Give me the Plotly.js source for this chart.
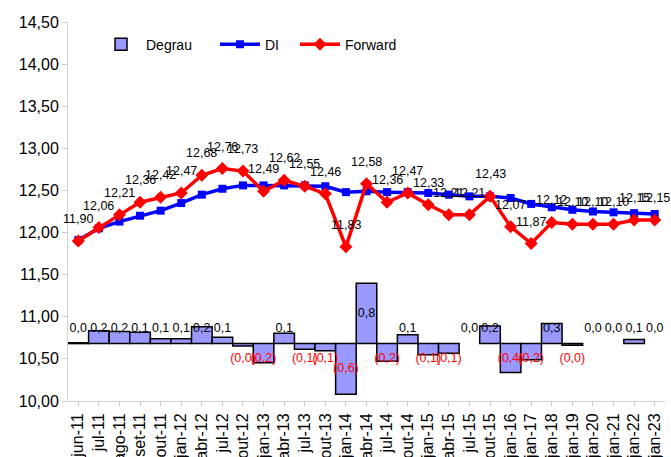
<!DOCTYPE html>
<html>
<head>
<meta charset="utf-8">
<script src="https://cdn.plot.ly/plotly-3.0.1.min.js"></script>
<style>html,body{margin:0;padding:0;background:#fff;}#chart{width:671px;height:457px;}</style>
</head>
<body>
<div id="chart"></div>
<script>
var categories = ["jun-11","jul-11","ago-11","set-11","out-11","jan-12","abr-12","jul-12","out-12","jan-13","abr-13","jul-13","out-13","jan-14","abr-14","jul-14","out-14","jan-15","abr-15","jul-15","out-15","jan-16","jan-17","jan-18","jan-19","jan-20","jan-21","jan-22","jan-23"];
var forward = [11.90,12.06,12.21,12.36,12.42,12.47,12.68,12.76,12.73,12.49,12.62,12.55,12.46,11.83,12.58,12.36,12.47,12.33,12.21,12.21,12.43,12.07,11.87,12.12,12.10,12.10,12.10,12.15,12.15];
var di = [11.91,12.05,12.13,12.20,12.26,12.35,12.45,12.52,12.56,12.56,12.56,12.56,12.55,12.48,12.49,12.48,12.48,12.47,12.45,12.43,12.43,12.41,12.34,12.30,12.27,12.25,12.24,12.23,12.22];
var degrau = [0.01,0.16,0.15,0.14,0.06,0.06,0.21,0.08,-0.03,-0.24,0.13,-0.07,-0.09,-0.63,0.75,-0.22,0.11,-0.14,-0.12,0.0,0.22,-0.36,-0.20,0.25,-0.02,0.0,0.0,0.05,0.0];
var degrauLabels = ["0,0","0,2","0,2","0,1","0,1","0,1","0,2","0,1","(0,0)","(0,2)","0,1","(0,1)","(0,1)","(0,6)","0,8","(0,2)","0,1","(0,1)","(0,1)","0,0","0,2","(0,4)","(0,2)","0,3","(0,0)","0,0","0,0","0,1","0,0"];
var forwardLabels = forward.map(function(v){ return v.toFixed(2).replace('.', ','); });

var FONT = "Liberation Sans, Arial, sans-serif";

var labelPos = degrau.map(function(v){
  var s = (v < 0) ? -1 : 1;
  return s * Math.max(Math.abs(v) / 2, 0.185);
});
var labelColors = degrau.map(function(v){ return v < 0 ? "#ff0000" : "#000000"; });
var barLineWidths = degrau.map(function(v){ return v === 0 ? 0 : 1.5; });

var traces = [
  {
    type: "bar", name: "Degrau", x: categories, y: degrau, yaxis: "y2",
    marker: {color: "#9999ff", line: {color: "#000000", width: barLineWidths}},
    width: 1, hoverinfo: "skip", legend: "legend"
  },
  {
    type: "scatter", mode: "lines+markers", name: "DI", x: categories, y: di,
    line: {color: "#0000ff", width: 3.5},
    marker: {symbol: "square", size: 8, color: "#0000ff"}, legend: "legend2"
  },
  {
    type: "scatter", mode: "lines+markers", name: "Forward", x: categories, y: forward,
    line: {color: "#ff0000", width: 3.5},
    marker: {symbol: "diamond", size: 10, color: "#ff0000"}, legend: "legend3"
  },
  {
    type: "scatter", mode: "text", x: categories, y: labelPos, yaxis: "y2",
    text: degrauLabels, textposition: "middle center",
    textfont: {family: FONT, size: 12.5, color: labelColors},
    showlegend: false, hoverinfo: "skip"
  }
];

var annotations = categories.map(function(c, i){
  return {
    x: c, y: forward[i], xref: "x", yref: "y", text: forwardLabels[i],
    showarrow: false, yshift: 22, font: {family: FONT, size: 12.5, color: "#000000"}
  };
});

function legendAt(px){
  return {
    orientation: "h", x: (px - 68) / 597, xanchor: "left", y: 0.94, yanchor: "middle",
    font: {family: FONT, size: 14, color: "#000000"}, bgcolor: "rgba(0,0,0,0)",
    itemwidth: 40
  };
}

var layout = {
  width: 671, height: 457,
  margin: {l: 68, r: 6, t: 22, b: 56},
  paper_bgcolor: "#ffffff", plot_bgcolor: "#ffffff",
  separators: ",.",
  font: {family: FONT, color: "#000000"},
  showlegend: true,
  bargap: 0,
  xaxis: {
    type: "category", range: [-0.5, 28.5], tickangle: -90,
    showgrid: false, zeroline: false, showline: true, linecolor: "#d0d0d0", linewidth: 1,
    ticks: "outside", ticklen: 5, tickcolor: "#d0d0d0",
    tickfont: {family: FONT, size: 16, color: "#000000"}, automargin: false
  },
  yaxis: {
    range: [10, 14.5], dtick: 0.5, tick0: 10, tickformat: ".2f",
    showgrid: false, zeroline: false, showline: true, linecolor: "#d0d0d0", linewidth: 1,
    ticks: "outside", ticklen: 5, tickcolor: "#d0d0d0",
    tickfont: {family: FONT, size: 16, color: "#000000"}, automargin: false
  },
  yaxis2: {
    overlaying: "y", side: "right", range: [-0.715, 4.005], visible: false,
    showgrid: false, zeroline: false
  },
  legend: legendAt(96),
  legend2: legendAt(215),
  legend3: legendAt(295),
  annotations: annotations
};

Plotly.newPlot("chart", traces, layout, {displayModeBar: false, staticPlot: true});
</script>
</body>
</html>
